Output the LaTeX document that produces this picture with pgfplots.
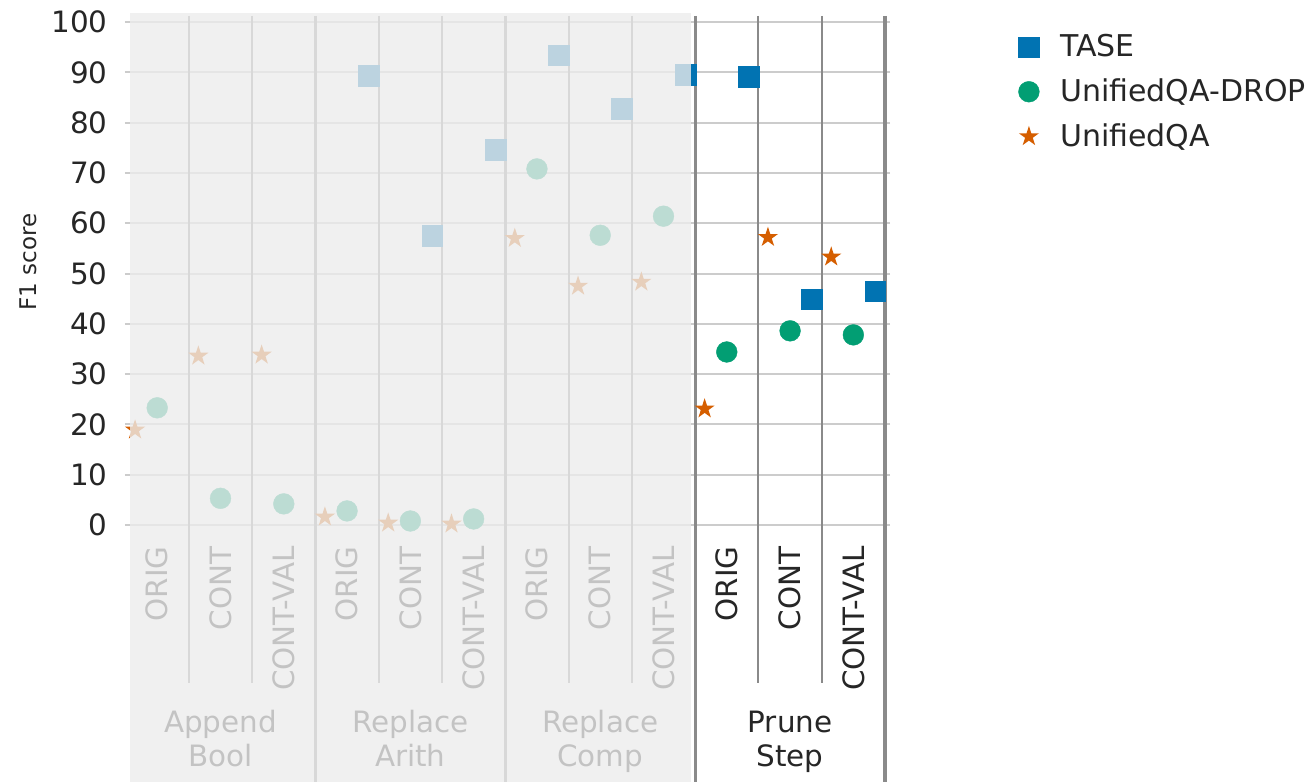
\documentclass[border=0pt]{standalone}
\usepackage{fontspec}
\setmainfont{DejaVu Sans}
\usepackage{pgfplots}
\pgfplotsset{compat=1.18}
\usepackage{pgfplotstable}

\definecolor{tase}{HTML}{0173B2}
\definecolor{drop}{HTML}{029E73}
\definecolor{uqa}{HTML}{D55E00}
\definecolor{txt}{HTML}{262626}
\definecolor{gridc}{HTML}{CCCCCC}
\definecolor{sepc}{HTML}{8A8A8A}
\definecolor{veil}{HTML}{ECECEC}

% filled five-pointed star
\pgfdeclareplotmark{fstar}{%
  \pgfpathmoveto{\pgfpointpolar{90}{\pgfplotmarksize}}%
  \pgfpathlineto{\pgfpointpolar{126}{0.382\pgfplotmarksize}}%
  \pgfpathlineto{\pgfpointpolar{162}{\pgfplotmarksize}}%
  \pgfpathlineto{\pgfpointpolar{198}{0.382\pgfplotmarksize}}%
  \pgfpathlineto{\pgfpointpolar{234}{\pgfplotmarksize}}%
  \pgfpathlineto{\pgfpointpolar{270}{0.382\pgfplotmarksize}}%
  \pgfpathlineto{\pgfpointpolar{306}{\pgfplotmarksize}}%
  \pgfpathlineto{\pgfpointpolar{342}{0.382\pgfplotmarksize}}%
  \pgfpathlineto{\pgfpointpolar{18}{\pgfplotmarksize}}%
  \pgfpathlineto{\pgfpointpolar{54}{0.382\pgfplotmarksize}}%
  \pgfpathclose
  \pgfusepathqfill
}

% F1 scores per perturbation (0-2 Append Bool, 3-5 Replace Arith,
% 6-8 Replace Comp, 9-11 Prune Step)
\pgfplotstableread{
idx tase drop uqa
0   nan  23.3 18.9
1   nan  5.3  33.6
2   nan  4.2  33.8
3   89.3 2.8  1.6
4   57.5 0.8  0.4
5   74.6 1.2  0.2
6   93.4 70.8 57.0
7   82.7 57.6 47.5
8   89.5 61.4 48.3
9   89.1 34.4 23.1
10  44.9 38.6 57.2
11  46.5 37.8 53.3
}\scores

\newcommand{\lblfont}{\fontsize{14.7}{17}\selectfont}
\tikzset{
  catline/.style={sepc, line width=1pt},
  grpline/.style={sepc, line width=1.6pt},
  grpname/.style={anchor=base, font=\lblfont, text=txt, inner sep=0pt},
}

\begin{document}
\begin{tikzpicture}
\path[use as bounding box] (-65pt,-128.5pt) rectangle (590.5pt,262.5pt);
\begin{axis}[
  scale only axis,
  width=377.5pt, height=254.5pt,
  xmin=-0.43, xmax=11.5, ymin=0, ymax=101.2,
  clip=false,
  axis line style={draw=none},
  ytick={0,10,...,100},
  xtick={0,...,11},
  xticklabels={ORIG,CONT,CONT-VAL,ORIG,CONT,CONT-VAL,ORIG,CONT,CONT-VAL,ORIG,CONT,CONT-VAL},
  ymajorgrids,
  major grid style={gridc, line width=1pt},
  tick align=outside,
  major tick length=2.5pt,
  ytick style={gridc, line width=1pt},
  xtick style={draw=none},
  tick label style={font=\lblfont, text=txt},
  /pgf/number format/assume math mode=true,
  xticklabel style={rotate=90, anchor=east, inner sep=0pt},
  yticklabel style={anchor=east, inner sep=0pt},
  xticklabel shift=8pt,
  yticklabel shift=8.5pt,
  ylabel={F1 score},
  ylabel style={at={(axis description cs:-0.135,0.517)}, anchor=center,
    font=\fontsize{11.5}{14}\selectfont, text=txt},
  legend style={at={(axis description cs:1.159,0.98)}, anchor=north west,
    draw=none, fill=none, font=\fontsize{15}{17}\selectfont, text=txt,
    row sep=5.5pt},
  legend cell align=left,
  legend image code/.code={%
    \path (0cm,0cm) (0.77cm,0cm);
    \draw[mark repeat=2, mark phase=2, #1]
      plot coordinates {(0cm,0cm) (0.3cm,0cm) (0.6cm,0cm)};},
]
% category dividers
\draw[catline] (axis cs:0.5,101.2) -- (axis cs:0.5,-31.4);
\draw[catline] (axis cs:1.5,101.2) -- (axis cs:1.5,-31.4);
\draw[catline] (axis cs:3.5,101.2) -- (axis cs:3.5,-31.4);
\draw[catline] (axis cs:4.5,101.2) -- (axis cs:4.5,-31.4);
\draw[catline] (axis cs:6.5,101.2) -- (axis cs:6.5,-31.4);
\draw[catline] (axis cs:7.5,101.2) -- (axis cs:7.5,-31.4);
\draw[catline] (axis cs:9.5,101.2) -- (axis cs:9.5,-31.4);
\draw[catline] (axis cs:10.5,101.2) -- (axis cs:10.5,-31.4);
% group dividers
\draw[grpline] (axis cs:2.5,101.2) -- (axis cs:2.5,-51.1);
\draw[grpline] (axis cs:5.5,101.2) -- (axis cs:5.5,-51.1);
\draw[grpline] (axis cs:8.5,101.2) -- (axis cs:8.5,-51.1);
\draw[grpline] (axis cs:11.5,101.2) -- (axis cs:11.5,-51.1);

\addplot[only marks, mark=square*, mark size=5.2pt, color=tase,
  mark options={line width=0.2pt}]
  table[x expr=\thisrow{idx}+0.345, y=tase]{\scores};
\addlegendentry{TASE}
\addplot[only marks, mark=*, mark size=5.2pt, color=drop,
  mark options={line width=0.2pt}]
  table[x=idx, y=drop]{\scores};
\addlegendentry{UnifiedQA-DROP}
\addplot[only marks, mark=fstar, mark size=5.3pt, color=uqa]
  table[x expr=\thisrow{idx}-0.35, y=uqa]{\scores};
\addlegendentry{UnifiedQA}

% group names
\node[grpname] at (axis cs:1,-41.35) {Append};
\node[grpname] at (axis cs:1,-48.1) {Bool};
\node[grpname] at (axis cs:4,-41.35) {Replace};
\node[grpname] at (axis cs:4,-48.1) {Arith};
\node[grpname] at (axis cs:7,-41.35) {Replace};
\node[grpname] at (axis cs:7,-48.1) {Comp};
\node[grpname] at (axis cs:10,-41.35) {Prune};
\node[grpname] at (axis cs:10,-48.1) {Step};
\coordinate (veilA) at (axis cs:-0.43,101.8);
\coordinate (veilB) at (axis cs:8.44,-51.1);
\end{axis}
% light veil over the first three groups
\fill[veil, opacity=0.795] (veilA) rectangle (veilB);
\end{tikzpicture}
\end{document}
